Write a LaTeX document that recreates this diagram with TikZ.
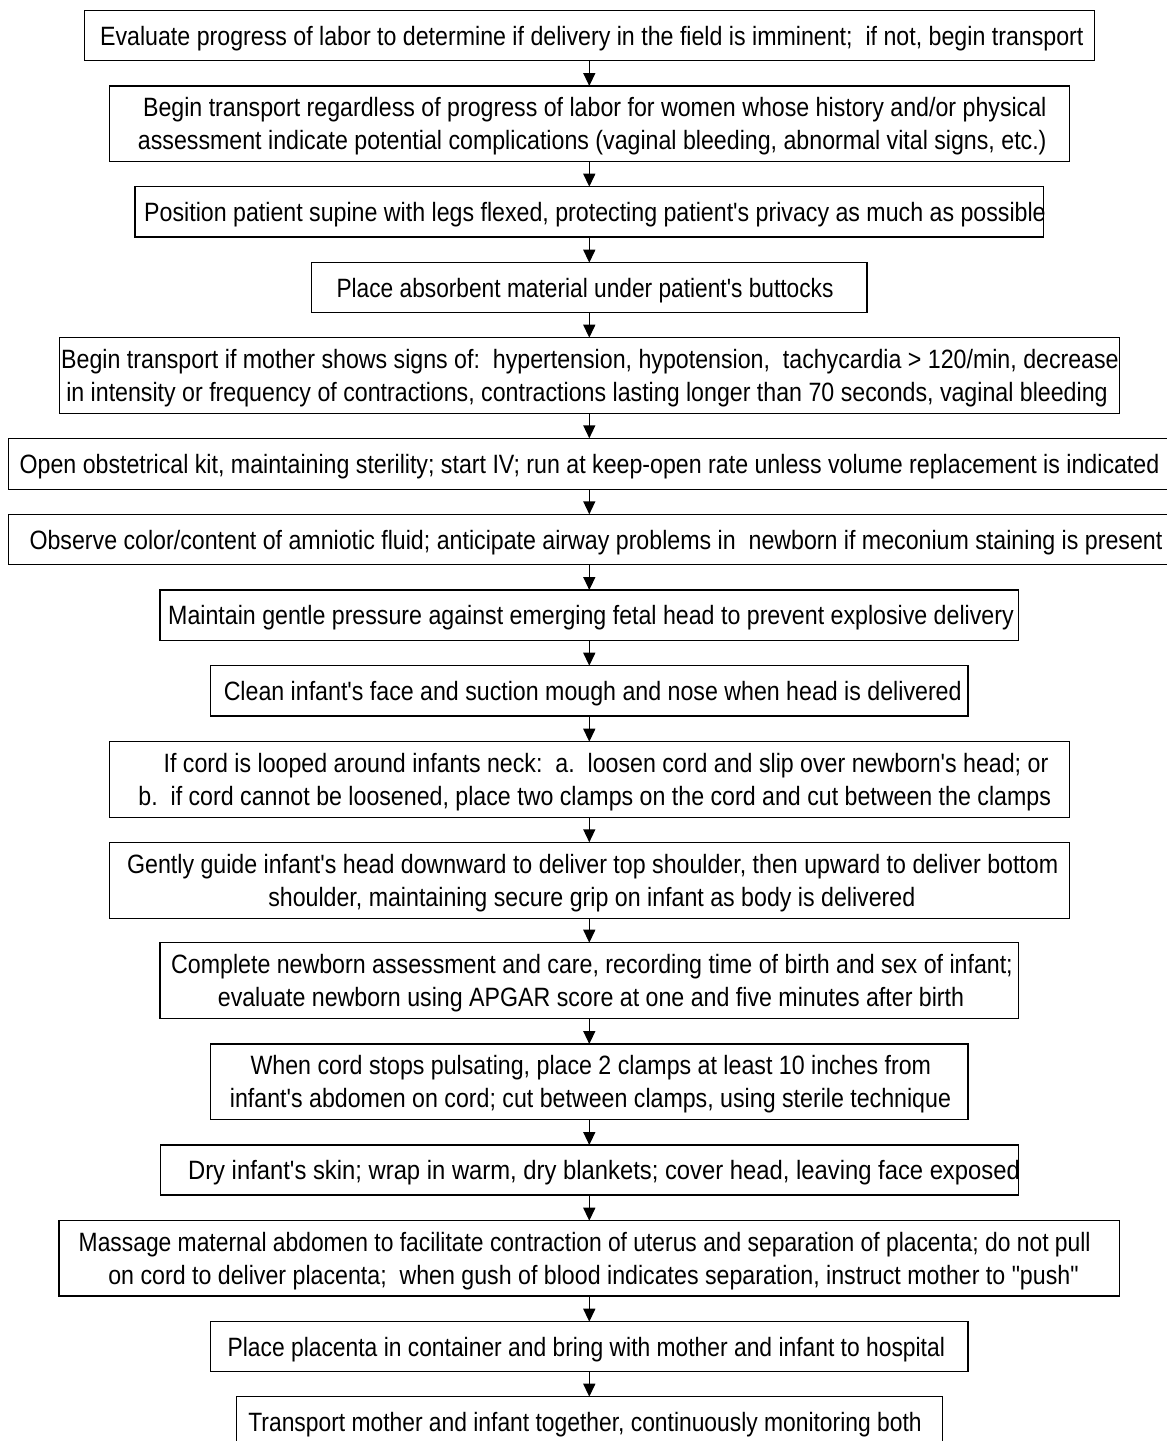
\documentclass[tikz,border=0pt]{standalone}
\usepackage{graphicx}
\usepackage{fontspec}
\setmainfont{Liberation Sans}[FakeStretch=0.875, Ligatures=TeXOff]
\usetikzlibrary{arrows.meta}
\tikzset{
  stepbox/.style={draw=black, line width=1.4pt, inner sep=0pt, outer sep=0pt},
  txt/.style={anchor=base, inner sep=0pt, outer sep=0pt, font=\fontsize{26.5pt}{33pt}\selectfont},
  arr/.style={-{Triangle[width=12pt,length=13pt]}, line width=1.4pt, draw=black},
}
\begin{document}
\begin{tikzpicture}[x=1pt,y=-1pt]
\useasboundingbox (0,0) rectangle (1167,1441);
\fill[white] (0,0) rectangle (1167,1441);
\clip (0,0) rectangle (1167,1441);
% boxes
\node[stepbox, minimum width=1010pt, minimum height=50pt]   (b1)  at (589.3,35.7)   {};
\node[stepbox, minimum width=960pt,  minimum height=75.7pt] (b2)  at (589.3,123.85) {};
\node[stepbox, minimum width=908.7pt,minimum height=50.3pt] (b3)  at (589.3,211.85) {};
\node[stepbox, minimum width=555.3pt,minimum height=50pt]   (b4)  at (589.3,287.7)  {};
\node[stepbox, minimum width=1060pt, minimum height=75.6pt] (b5)  at (589.3,375.5)  {};
\node[stepbox, minimum width=1162pt, minimum height=51pt]   (b6)  at (589.3,463.8)  {};
\node[stepbox, minimum width=1162pt, minimum height=50.4pt] (b7)  at (589.3,539.5)  {};
\node[stepbox, minimum width=858.7pt,minimum height=50.3pt] (b8)  at (589.3,615.15) {};
\node[stepbox, minimum width=757.3pt,minimum height=50.3pt] (b9)  at (589.3,690.85) {};
\node[stepbox, minimum width=960pt,  minimum height=75.6pt] (b10) at (589.3,779.5)  {};
\node[stepbox, minimum width=960pt,  minimum height=76pt]   (b11) at (589.3,880.3)  {};
\node[stepbox, minimum width=858.7pt,minimum height=75.6pt] (b12) at (589.3,980.5)  {};
\node[stepbox, minimum width=757.6pt,minimum height=75.3pt] (b13) at (589.3,1081.65){};
\node[stepbox, minimum width=858pt,  minimum height=50pt]   (b14) at (589.3,1170)   {};
\node[stepbox, minimum width=1060.5pt,minimum height=75.3pt](b15) at (589.3,1258.35){};
\node[stepbox, minimum width=757.3pt,minimum height=50pt]   (b16) at (589.3,1346.7) {};
\node[stepbox, minimum width=706pt,  minimum height=50pt]   (b17) at (589.3,1421.7) {};
% texts
\node[txt] (t1)  at (591.8,45.2)  {Evaluate progress of labor to determine if delivery in the field is imminent;\ \ if not, begin transport};
\node[txt] (t2a) at (594.8,116.85) {Begin transport regardless of progress of labor for women whose history and/or physical};
\node[txt] (t2b) at (592.3,149.85) {assessment indicate potential complications (vaginal bleeding, abnormal vital signs, etc.)};
\node[txt] (t3)  at (595,221.35)  {Position patient supine with legs flexed, protecting patient's privacy as much as possible};
\node[txt] (t4)  at (585,297.2)   {\scalebox{0.98}[1]{Place absorbent material under patient's buttocks}};
\node[txt] (t5a) at (590,368.5)   {Begin transport if mother shows signs of:\ \ hypertension, hypotension,\ \ tachycardia > 120/min, decrease};
\node[txt] (t5b) at (587,401.5)   {in intensity or frequency of contractions, contractions lasting longer than 70 seconds, vaginal bleeding};
\node[txt] (t6)  at (589.5,473.3) {Open obstetrical kit, maintaining sterility; start IV; run at keep-open rate unless volume replacement is indicated};
\node[txt] (t7)  at (596,549)     {Observe color/content of amniotic fluid; anticipate airway problems in\ \ newborn if meconium staining is present};
\node[txt] (t8)  at (591,624.65)  {Maintain gentle pressure against emerging fetal head to prevent explosive delivery};
\node[txt] (t9)  at (592.7,700.35){Clean infant's face and suction mough and nose when head is delivered};
\node[txt] (t10a) at (606,772.5)  {If cord is looped around infants neck:\ \ a.\ \ loosen cord and slip over newborn's head; or};
\node[txt] (t10b) at (594.7,805.5){b.\ \ if cord cannot be loosened, place two clamps on the cord and cut between the clamps};
\node[txt] (t11a) at (592.7,873.3){Gently guide infant's head downward to deliver top shoulder, then upward to deliver bottom};
\node[txt] (t11b) at (591.8,906.3){shoulder, maintaining secure grip on infant as body is delivered};
\node[txt] (t12a) at (592,973.5)  {Complete newborn assessment and care, recording time of birth and sex of infant;};
\node[txt] (t12b) at (591,1006.5) {evaluate newborn using APGAR score at one and five minutes after birth};
\node[txt] (t13a) at (590.8,1074.65){When cord stops pulsating, place 2 clamps at least 10 inches from};
\node[txt] (t13b) at (590.5,1107.65){infant's abdomen on cord; cut between clamps, using sterile technique};
\node[txt] (t14)  at (604,1179.5) {\scalebox{1.027}[1]{Dry infant's skin; wrap in warm, dry blankets; cover head, leaving face exposed}};
\node[txt] (t15a) at (584.7,1251.35){\scalebox{0.985}[1]{Massage maternal abdomen to facilitate contraction of uterus and separation of placenta; do not pull}};
\node[txt] (t15b) at (593.5,1284.35){on cord to deliver placenta;\ \ when gush of blood indicates separation, instruct mother to "push"};
\node[txt] (t16)  at (586.3,1356.2){\scalebox{0.985}[1]{Place placenta in container and bring with mother and infant to hospital}};
\node[txt] (t17)  at (585,1431.2) {\scalebox{0.985}[1]{Transport mother and infant together, continuously monitoring both}};
% arrows
\foreach \a/\b in {b1/b2,b2/b3,b3/b4,b4/b5,b5/b6,b6/b7,b7/b8,b8/b9,b9/b10,b10/b11,b11/b12,b12/b13,b13/b14,b14/b15,b15/b16,b16/b17}
  \draw[arr] (\a.south) -- (\b.north);
\end{tikzpicture}
\end{document}
